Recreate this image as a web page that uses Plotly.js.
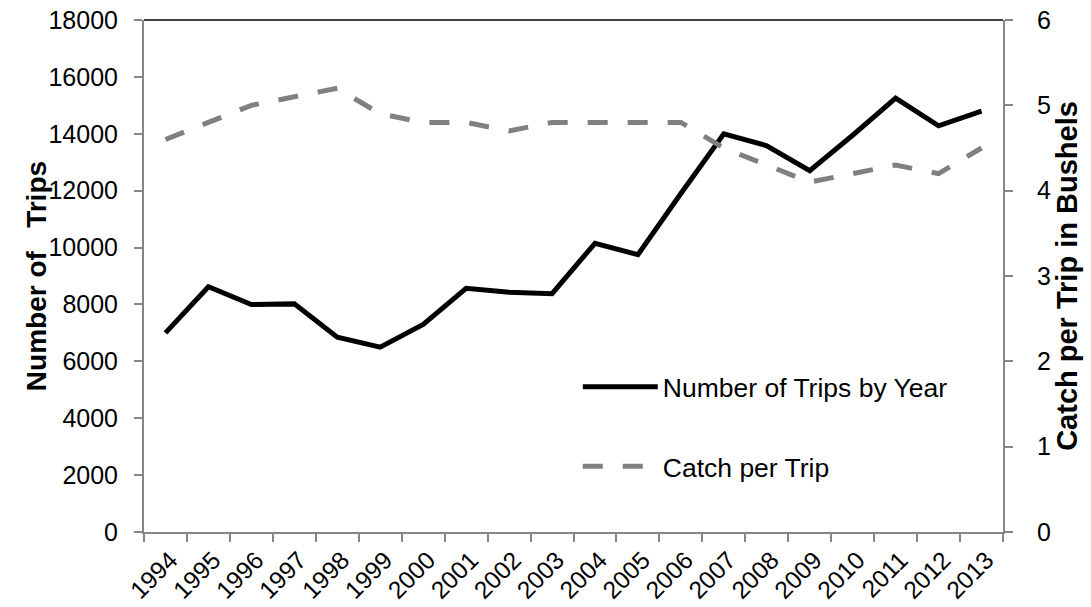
<!DOCTYPE html>
<html>
<head>
<meta charset="utf-8">
<script src="https://cdn.plot.ly/plotly-3.0.1.min.js"></script>
<style>html,body{margin:0;padding:0;background:#fff;}#chart{width:1091px;height:607px;}</style>
</head>
<body>
<div id="chart"></div>
<script>
const years = ["1994","1995","1996","1997","1998","1999","2000","2001","2002","2003","2004","2005","2006","2007","2008","2009","2010","2011","2012","2013"];
const tripsByYear = [7000,8620,8000,8020,6850,6500,7300,8570,8430,8380,10150,9750,11900,14000,13580,12700,13950,15250,14280,14800];
const catchPerTrip = [4.6,4.8,5.0,5.1,5.2,4.9,4.8,4.8,4.7,4.8,4.8,4.8,4.8,4.5,4.3,4.1,4.2,4.3,4.2,4.5];
const seriesNames = ["Number of Trips by Year","Catch per Trip"];
const leftTitle = "Number of\u00a0\u00a0\u00a0Trips";
const rightTitle = "Catch per Trip in Bushels";

const FONT = "Liberation Sans, Arial, sans-serif";
const AXC = "#868686";

const traces = [
  {x: years, y: tripsByYear, name: seriesNames[0], type: "scatter", mode: "lines",
   line: {color: "#000000", width: 5}, yaxis: "y", legendgroup: "a"},
  {x: years, y: catchPerTrip, name: seriesNames[1], type: "scatter", mode: "lines",
   line: {color: "#808080", width: 5, dash: "20px,20px"}, yaxis: "y2", legendgroup: "b"}
];

const layout = {
  width: 1091, height: 607,
  margin: {l: 144, r: 88, t: 20, b: 75},
  paper_bgcolor: "#fff", plot_bgcolor: "#fff",
  font: {family: FONT, size: 25, color: "#000"},
  showlegend: true,
  legend: {x: 0.505, y: 0.33, xanchor: "left", yanchor: "top", bgcolor: "rgba(0,0,0,0)",
           font: {size: 26.5, family: FONT}, traceorder: "grouped", tracegroupgap: 42, itemwidth: 75},
  xaxis: {type: "category", range: [-0.5, 19.5], tickson: "boundaries", ticks: "outside", ticklen: 8,
          tickwidth: 2, tickcolor: AXC, showline: true, linecolor: AXC, linewidth: 2, showgrid: false,
          tickangle: -45, tickfont: {size: 24.5}, ticklabelstandoff: 2, ticklabelshift: 5,
          zeroline: false, fixedrange: true},
  yaxis: {range: [0, 18000], dtick: 2000, tickformat: "d", ticks: "outside", ticklen: 8, tickwidth: 2, tickcolor: AXC,
          showline: true, linecolor: AXC, linewidth: 2, showgrid: false, zeroline: false,
          tickfont: {size: 25}, ticklabelstandoff: 11},
  yaxis2: {range: [0, 6], dtick: 1, tickformat: "d", overlaying: "y", side: "right", ticks: "outside", ticklen: 8,
           tickwidth: 2, tickcolor: AXC, showline: true, linecolor: AXC, linewidth: 2, showgrid: false,
           zeroline: false, tickfont: {size: 25}, ticklabelstandoff: 19,
           title: {text: rightTitle, font: {size: 29, family: FONT, weight: "bold"}, standoff: 3}},
  annotations: [{text: leftTitle, xref: "paper", yref: "paper", x: -0.1255, y: 0.5,
                 xanchor: "center", yanchor: "middle", textangle: -90, showarrow: false,
                 font: {size: 28, family: FONT, weight: "bold", color: "#000"}}],
  shapes: [{type: "line", xref: "paper", yref: "paper", x0: 0, x1: 1, y0: 1, y1: 1,
            line: {color: "#000", width: 1.5}}]
};

Plotly.newPlot("chart", traces, layout, {displayModeBar: false, staticPlot: true});
</script>
</body>
</html>
